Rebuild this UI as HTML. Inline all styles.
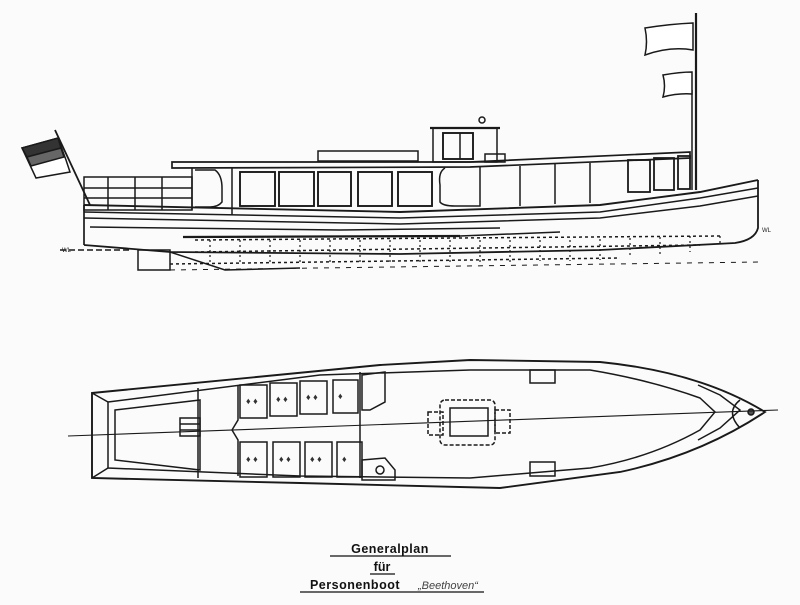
<!DOCTYPE html>
<html><head><meta charset="utf-8"><style>
html,body{margin:0;padding:0;background:#fff;}
svg{display:block;}
text{font-family:"Liberation Sans",sans-serif;}
</style></head><body>
<svg width="800" height="605" viewBox="0 0 800 605" xmlns="http://www.w3.org/2000/svg">
<rect width="800" height="605" fill="#fbfbfb"/>
<g fill="none" stroke="#1a1a1a" stroke-width="1.5">
<!-- stern flag -->
<line x1="55" y1="130" x2="90" y2="205" stroke-width="1.8"/>
<path d="M22,148 L58,138 L66,160 L70,172 L36,178 Z" fill="#fff"/>
<path d="M22,148 L58,138 L61,148 L27,157 Z" fill="#333"/>
<path d="M27,157 L61,148 L64,157 L31,166 Z" fill="#666"/>
<!-- mast & flags -->
<line x1="696" y1="13" x2="696" y2="190" stroke-width="2.2"/>
<line x1="692" y1="90" x2="692" y2="190"/>
<path d="M645,28 Q670,24 693,23 L693,50 Q670,46 645,55 Q648,42 645,28Z" fill="#fff"/>
<path d="M663,75 Q680,72 692,72 L692,94 Q678,93 663,97 Q666,86 663,75Z" fill="#fff"/>
<!-- stern railing -->
<rect x="84" y="177" width="108" height="33"/>
<line x1="84" y1="188" x2="192" y2="188"/>
<line x1="84" y1="198" x2="192" y2="198"/>
<line x1="108" y1="177" x2="108" y2="210"/>
<line x1="135" y1="177" x2="135" y2="210"/>
<line x1="162" y1="177" x2="162" y2="210"/>
<!-- roof -->
<path d="M172,162 L470,162 L690,152 L690,158 L470,167 L172,168 Z" stroke-width="1.7"/>
<rect x="318" y="151" width="100" height="10"/>
<!-- wheelhouse -->
<rect x="433" y="128" width="64" height="34"/>
<line x1="430" y1="128" x2="500" y2="128" stroke-width="2.2"/>
<rect x="443" y="133" width="30" height="26" stroke-width="1.9"/>
<line x1="460" y1="133" x2="460" y2="159"/>
<circle cx="482" cy="120" r="3"/>
<rect x="485" y="154" width="20" height="8"/>
<!-- saloon body -->
<line x1="192" y1="168" x2="192" y2="210"/>
<path d="M195,170 L215,170 Q222,175 222,188 L222,202 Q218,207 210,207 L195,207" />
<line x1="232" y1="168" x2="232" y2="215"/>
<rect x="240" y="172" width="35" height="34" stroke-width="1.9"/>
<rect x="279" y="172" width="35" height="34" stroke-width="1.9"/>
<rect x="318" y="172" width="33" height="34" stroke-width="1.9"/>
<rect x="358" y="172" width="34" height="34" stroke-width="1.9"/>
<rect x="398" y="172" width="34" height="34" stroke-width="1.9"/>
<path d="M445,168 Q438,172 440,185 L440,202 Q443,206 455,206 L480,206 L480,167"/>
<line x1="520" y1="166" x2="520" y2="206"/>
<line x1="555" y1="164" x2="555" y2="204"/>
<line x1="590" y1="163" x2="590" y2="203"/>
<rect x="628" y="160" width="22" height="32" stroke-width="1.8"/>
<rect x="654" y="158" width="20" height="32" stroke-width="1.8"/>
<rect x="678" y="156" width="12" height="33" stroke-width="1.8"/>
<!-- hull -->
<path d="M84,205 L400,212 L600,205 L700,192 L758,180" stroke-width="1.9"/>
<path d="M84,212 L400,218 L600,212 L700,198 L758,188"/>
<path d="M84,218 L400,224 L600,218 L700,206 L758,196"/>
<path d="M90,227 L340,230 L500,228"/>
<path d="M84,205 L84,245" stroke-width="1.7"/>
<path d="M758,180 L758,228 Q755,240 735,243 L600,250 L400,254 L170,252 L84,245" stroke-width="1.8"/>
<path d="M183,237 L460,236" stroke-width="2.3"/>
<path d="M460,236 L560,232" stroke-width="1.5"/>
<!-- keel/dashed -->
<g stroke-dasharray="3,3">
<path d="M195,240 L720,236"/>
<path d="M195,252 L700,245"/>
<path d="M170,264 L620,258"/>
</g>
<g stroke-width="1.2" stroke-dasharray="2,3">
<line x1="210" y1="240" x2="210" y2="264"/><line x1="240" y1="240" x2="240" y2="264"/>
<line x1="270" y1="240" x2="270" y2="264"/><line x1="300" y1="240" x2="300" y2="264"/>
<line x1="330" y1="240" x2="330" y2="264"/><line x1="360" y1="240" x2="360" y2="263"/>
<line x1="390" y1="240" x2="390" y2="263"/><line x1="420" y1="240" x2="420" y2="263"/>
<line x1="450" y1="240" x2="450" y2="262"/><line x1="480" y1="240" x2="480" y2="262"/>
<line x1="510" y1="240" x2="510" y2="262"/><line x1="540" y1="240" x2="540" y2="261"/>
<line x1="570" y1="240" x2="570" y2="261"/><line x1="600" y1="239" x2="600" y2="260"/>
<line x1="630" y1="238" x2="630" y2="258"/><line x1="660" y1="237" x2="660" y2="256"/>
<line x1="690" y1="236" x2="690" y2="252"/><line x1="720" y1="236" x2="720" y2="246"/>
</g>
<rect x="138" y="250" width="32" height="20"/>
<path d="M170,252 L225,270 L300,268"/>
<line x1="60" y1="250" x2="130" y2="250" stroke-dasharray="6,3"/>
<line x1="170" y1="270" x2="760" y2="262" stroke-dasharray="5,6" stroke-width="1"/>
</g>
<text x="62" y="252" font-size="6" fill="#222">WL</text>
<text x="762" y="232" font-size="6" fill="#222">WL</text>

<!-- PLAN VIEW -->
<g fill="none" stroke="#1a1a1a" stroke-width="1.5">
<path d="M92,393 L380,365 L470,360 L600,362 Q700,372 765,412 Q700,455 620,472 L500,488 L300,483 L92,478 Z" stroke-width="1.9"/>
<path d="M108,402 L320,375 L470,370 L590,370 Q650,380 700,398 L715,412 L700,430 Q650,458 590,468 L470,478 L300,476 L108,468 Z"/>
<path d="M92,393 L108,402 M92,478 L108,468"/>
<path d="M115,410 L200,400 L200,470 L115,460 Z"/>
<path d="M698,385 L720,395 L740,410 L720,428 L698,440"/>
<path d="M740,400 Q725,412 740,428"/>
<circle cx="751" cy="412" r="3" fill="#555"/>
<line x1="68" y1="436" x2="778" y2="410" stroke-width="1.1"/>
<line x1="198" y1="388" x2="198" y2="478"/>
<path d="M238,385 L238,420 L232,430 L238,440 L238,476"/>
<line x1="360" y1="372" x2="360" y2="478"/>
<rect x="180" y="418" width="20" height="18"/>
<line x1="180" y1="424" x2="200" y2="424"/><line x1="180" y1="430" x2="200" y2="430"/>
<rect x="240" y="385" width="27" height="33"/><rect x="270" y="383" width="27" height="33"/>
<rect x="300" y="381" width="27" height="33"/><rect x="333" y="380" width="25" height="33"/>
<rect x="240" y="442" width="27" height="35"/><rect x="273" y="442" width="27" height="35"/>
<rect x="305" y="442" width="27" height="35"/><rect x="337" y="442" width="25" height="35"/>
<path d="M362,375 L385,372 L385,402 L370,410 L362,410Z"/>
<path d="M362,460 L385,458 L395,470 L395,480 L362,480Z"/>
<circle cx="380" cy="470" r="4"/>
<rect x="530" y="370" width="25" height="13"/>
<rect x="530" y="462" width="25" height="14"/>
<g stroke-dasharray="4,2">
<rect x="440" y="400" width="55" height="45" rx="5"/>
<rect x="428" y="412" width="15" height="23"/>
<rect x="495" y="410" width="15" height="23"/>
</g>
<rect x="450" y="408" width="38" height="28"/>
</g>
<g fill="#333" font-size="9">
<text x="246" y="404">♦ ♦</text><text x="276" y="402">♦ ♦</text><text x="306" y="400">♦ ♦</text><text x="338" y="399">♦</text>
<text x="246" y="462">♦ ♦</text><text x="279" y="462">♦ ♦</text><text x="310" y="462">♦ ♦</text><text x="342" y="462">♦</text>
</g>

<!-- Title -->
<g fill="#111" font-weight="bold" font-size="12.5" text-anchor="middle">
<text x="390" y="553" letter-spacing="0.5">Generalplan</text>
<text x="382" y="571">für</text>
<text x="355" y="589" letter-spacing="0.5">Personenboot</text>
</g>
<text x="418" y="589" font-size="11" font-style="italic" fill="#444" font-family="Liberation Serif,serif">„Beethoven“</text>
<g stroke="#111" stroke-width="1.2">
<line x1="330" y1="556" x2="451" y2="556"/>
<line x1="370" y1="574" x2="395" y2="574"/>
<line x1="300" y1="592" x2="484" y2="592"/>
</g>
</svg>
</body></html>
